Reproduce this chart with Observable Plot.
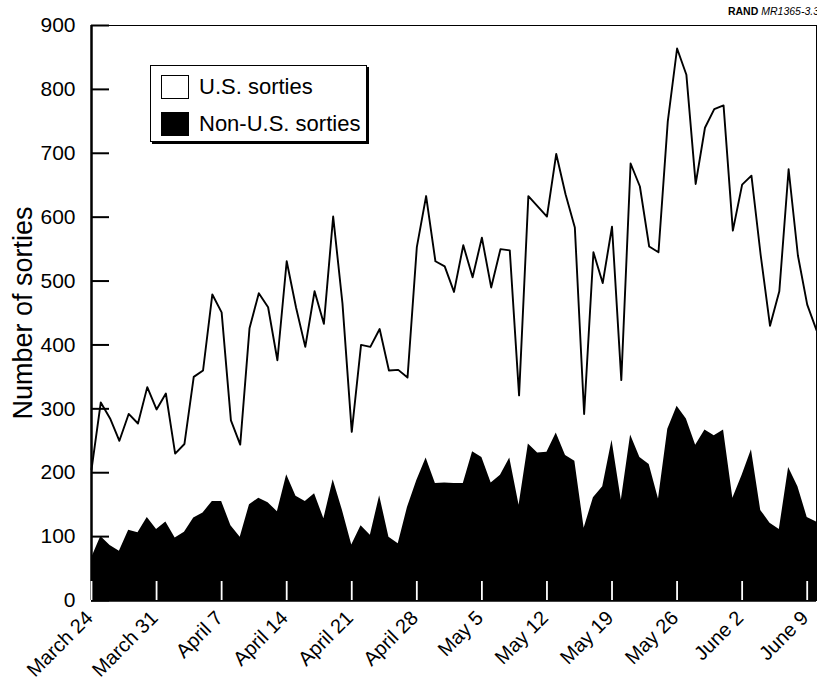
<!DOCTYPE html>
<html>
<head>
<meta charset="utf-8">
<script src="https://cdn.jsdelivr.net/npm/d3@7"></script>
<script src="https://cdn.jsdelivr.net/npm/@observablehq/plot@0.6"></script>
<style>
  html, body { margin: 0; padding: 0; background: #fff; overflow: hidden; }
  #wrap { position: relative; width: 817px; height: 679px; overflow: hidden; font-family: "Liberation Sans", Arial, Helvetica, sans-serif; }
  #credit { position: absolute; top: 5px; right: -2px; font-size: 10.5px; color: #000; white-space: nowrap; }
  #legend { position: absolute; left: 150px; top: 65px; width: 217px; height: 77px; border: 1.5px solid #000;
            box-shadow: 2px 2px 0 #000; background: #fff; box-sizing: border-box; }
  .item { position: absolute; left: 10px; display: flex; align-items: center; font-size: 22px; line-height: 24px; }
  .sw { width: 28px; height: 24px; border: 1.5px solid #000; box-sizing: border-box; margin-right: 10px; }
</style>
</head>
<body>
<div id="wrap">
  <div id="chart"></div>
  <div id="legend"></div>
  <div id="credit"><b>RAND</b> <i>MR1365-3.3</i></div>
</div>
<script>
// ---- data ----
const startDate = "1999-03-24";
const endDate = "1999-06-10";
const seriesNames = ["U.S. sorties", "Non-U.S. sorties"];
const seriesFills = ["white", "black"];
const usSorties = [
  205, 310, 285, 250, 292, 277, 334, 299, 324, 230,
  245, 350, 360, 479, 451, 282, 244, 426, 481, 459,
  376, 531, 459, 397, 484, 433, 601, 465, 264, 400,
  397, 425, 360, 361, 349, 553, 633, 531, 523, 483,
  556, 506, 568, 490, 550, 548, 321, 633, 617, 601,
  699, 636, 584, 292, 545, 497, 585, 345, 684, 648,
  554, 545, 750, 864, 823, 652, 740, 769, 775, 579,
  651, 665, 540, 430, 484, 675, 540, 463, 423
];
const nonUsSorties = [
  66, 100, 86, 77, 110, 106, 130, 111, 123, 98,
  107, 129, 137, 155, 155, 117, 99, 150, 160, 153,
  139, 197, 163, 155, 167, 128, 189, 141, 87, 117,
  102, 164, 99, 89, 146, 188, 223, 183, 184, 183,
  183, 233, 224, 184, 196, 223, 149, 245, 231, 232,
  262, 227, 218, 113, 161, 178, 251, 157, 259, 224,
  213, 159, 268, 304, 284, 243, 267, 258, 267, 160,
  196, 236, 141, 121, 111, 208, 178, 130, 123
];
const tickDates = ["1999-03-24", "1999-03-31", "1999-04-07", "1999-04-14", "1999-04-21", "1999-04-28",
                   "1999-05-05", "1999-05-12", "1999-05-19", "1999-05-26", "1999-06-02", "1999-06-09"];
const tickLabels = ["March 24", "March 31", "April 7", "April 14", "April 21", "April 28",
                    "May 5", "May 12", "May 19", "May 26", "June 2", "June 9"];
const yTicks = [0, 100, 200, 300, 400, 500, 600, 700, 800, 900];
const yLabel = "Number of sorties";

// ---- build table ----
const start = new Date(startDate);
const rows = usSorties.map((us, i) => ({date: d3.utcDay.offset(start, i), us, nonUs: nonUsSorties[i]}));
const xTicks = tickDates.map(s => new Date(s));
const labelByTime = new Map(xTicks.map((d, i) => [+d, tickLabels[i]]));

const W = 817, H = 679, mL = 91, mR = 1, mT = 25, mB = 79;

const chart = Plot.plot({
  width: W,
  height: H,
  marginLeft: mL,
  marginRight: mR,
  marginTop: mT,
  marginBottom: mB,
  style: {fontFamily: "'Liberation Sans', Arial, Helvetica, sans-serif", fontSize: "20px", background: "white", color: "black", overflow: "visible"},
  x: {type: "utc", domain: [new Date(startDate), new Date(endDate)]},
  y: {domain: [0, 900]},
  marks: [
    Plot.areaY(rows, {x: "date", y: "nonUs", fill: "black"}),
    Plot.line(rows, {x: "date", y: "us", stroke: "black", strokeWidth: 1.9}),
    Plot.frame({stroke: "black", strokeWidth: 1}),
    Plot.ruleY([0], {stroke: "black", strokeWidth: 2.5}),
    Plot.ruleX([new Date(startDate)], {stroke: "black", strokeWidth: 2.5}),
    // inward y tick marks: left-axis ticks shifted into the frame
    Plot.axisY(yTicks, {anchor: "left", tickSize: 18, dx: 18, fill: "none", label: null, strokeWidth: 2}),
    // inward white x tick marks: bottom-axis ticks shifted up into the frame
    Plot.axisX(xTicks, {anchor: "bottom", tickSize: 19, dy: -19, stroke: "white", fill: "none", label: null, strokeWidth: 1.8}),
    // y tick labels
    Plot.axisY(yTicks, {anchor: "left", tickSize: 0, tickPadding: 16, fontSize: 21, label: null}),
    // x tick labels
    Plot.axisX(xTicks, {anchor: "bottom", tickSize: 0, tickPadding: 14, tickRotate: -45, fontSize: 20, dx: -2,
                        tickFormat: d => labelByTime.get(+d), label: null}),
    Plot.text([yLabel], {frameAnchor: "left", textAnchor: "middle", dx: -68, rotate: -90, fontSize: 27})
  ]
});
document.getElementById("chart").appendChild(chart);

// ---- legend ----
const legend = document.getElementById("legend");
seriesNames.forEach((name, i) => {
  const item = document.createElement("div");
  item.className = "item";
  item.style.top = (i === 0 ? 9 : 46) + "px";
  const sw = document.createElement("div");
  sw.className = "sw";
  sw.style.background = seriesFills[i];
  const label = document.createElement("span");
  label.textContent = name;
  item.appendChild(sw);
  item.appendChild(label);
  legend.appendChild(item);
});
</script>
</body>
</html>
